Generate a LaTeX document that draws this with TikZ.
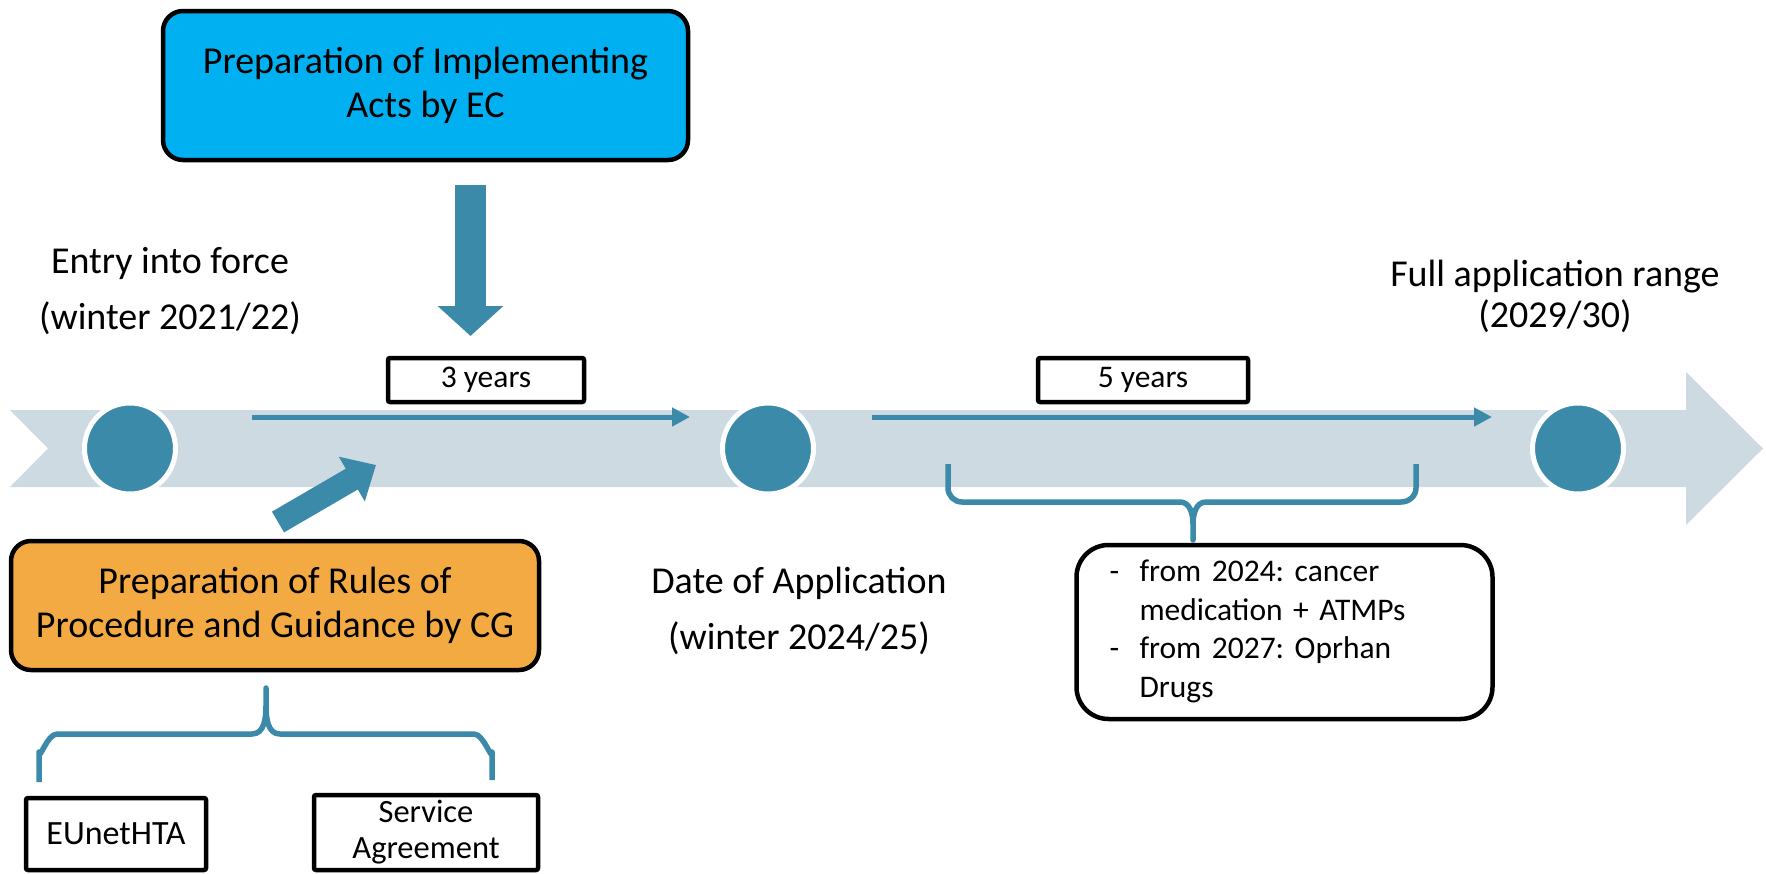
\documentclass[tikz,border=0pt]{standalone}
\usepackage{fontspec}
\setmainfont{Carlito}
\frenchspacing
\usetikzlibrary{arrows.meta}
\definecolor{teal1}{HTML}{3B8AAA}
\definecolor{bandc}{HTML}{CDDAE2}
\definecolor{ecblue}{HTML}{00B0F0}
\definecolor{cgorange}{HTML}{F4AA42}
\begin{document}
\begin{tikzpicture}[x=1pt,y=-1pt,
  bigbox/.style={draw=black, line width=4.5pt, rounded corners=20pt, inner sep=0pt, align=center,
    font=\fontsize{38}{44}\selectfont},
  yearbox/.style={draw=black, line width=4.5pt, fill=white, rounded corners=2pt, inner sep=0pt,
    minimum height=44pt, font=\fontsize{31.5}{36}\selectfont},
  smallbox/.style={draw=black, line width=4.5pt, fill=white, rounded corners=2pt, inner sep=0pt,
    align=center, font=\fontsize{32.5}{36}\selectfont},
  label/.style={align=center, inner sep=0pt, font=\fontsize{38}{56}\selectfont},
  dot/.style={circle, fill=teal1, draw=white, line width=5pt, minimum size=91pt, inner sep=0pt},
  thin/.style={teal1, line width=5pt, -{Triangle[length=18pt,width=18pt]}},
  brace/.style={teal1, line width=5.5pt, line join=round},
]
\useasboundingbox (0,0) rectangle (1766,873);

% timeline band
\fill[bandc] (10,410) -- (1686,410) -- (1686,372) -- (1763,448.5) -- (1686,525) -- (1686,487)
  -- (10,487) -- (48,448.5) -- cycle;

% milestones
\node[dot] (c1) at (130,448.5) {};
\node[dot] (c2) at (768,448.5) {};
\node[dot] (c3) at (1578,448.5) {};

% period arrows
\coordinate (p1s) at (252,417);
\coordinate (p1e) at (690,417);
\coordinate (p2s) at (872,417);
\coordinate (p2e) at (1492,417);
\draw[thin] (p1s) -- (p1e);
\draw[thin] (p2s) -- (p2e);

% period boxes
\node[yearbox, minimum width=196pt] (y3) at (486,380) {3 years};
\node[yearbox, minimum width=210pt] (y5) at (1143,380) {5 years};

% top box
\node[bigbox, fill=ecblue, minimum width=525pt, minimum height=149pt] (ec) at (425.5,85.5)
  {Preparation of Implementing\\Acts by EC};
\coordinate (ecs) at (470.5,185);
\coordinate (ece) at (470.5,336);
\draw[teal1, line width=31pt, -{Triangle[length=30pt,width=64pt]}] (ecs) -- (ece);

% bottom-left box
\node[bigbox, fill=cgorange, minimum width=528pt, minimum height=129pt] (cg) at (275,605.5)
  {Preparation of Rules of\\Procedure and Guidance by CG};
\coordinate (cgs) at (278,522);
\coordinate (cge) at (376,465);
\draw[teal1, line width=24pt, -{Triangle[length=28pt,width=50pt]}] (cgs) -- (cge);

% labels
\node[label] (l1) at (170,291) {Entry into force\\(winter 2021/22)};
\node[label] (l2) at (799,611) {Date of Application\\(winter 2024/25)};
\node[label, font=\fontsize{38}{41}\selectfont] (l3) at (1555,296) {Full application range\\(2029/30)};

% braces
\draw[brace] (39,782) -- (39,752) to[out=270,in=180] (57,734) -- (252,734)
  to[out=0,in=270] (266,706) -- (266,688) -- (266,706) to[out=270,in=180] (280,734)
  -- (474,734) to[out=0,in=270] (492,752) -- (492,780);
\draw[brace] (948,464) -- (948,488) to[out=270,in=180] (962,502) -- (1180,502)
  to[out=0,in=90] (1193,524) -- (1193,540) -- (1193,524) to[out=90,in=180] (1206,502)
  -- (1401,502) to[out=0,in=270] (1416,488) -- (1416,464);

% bottom boxes
\node[smallbox, minimum width=180pt, minimum height=72pt, font=\fontsize{34}{36}\selectfont] (eu) at (116,834) {EUnetHTA};
\node[smallbox, minimum width=224pt, minimum height=75pt] (sa) at (426,832.5) {Service\\Agreement};

% right box
\node[draw=black, line width=4.5pt, rounded corners=32pt, inner ysep=0pt, inner xsep=33pt,
  text width=350pt, minimum height=174pt, align=left, font=\fontsize{31.5}{38.5}\selectfont]
  (rb) at (1284.5,632)
  {\noindent\begin{tabular}{@{}p{30pt}@{}l@{}}
  - & from 2024: cancer\\
    & medication + ATMPs\\
  - & from 2027: Oprhan\\
    & Drugs
  \end{tabular}};
\end{tikzpicture}
\end{document}
